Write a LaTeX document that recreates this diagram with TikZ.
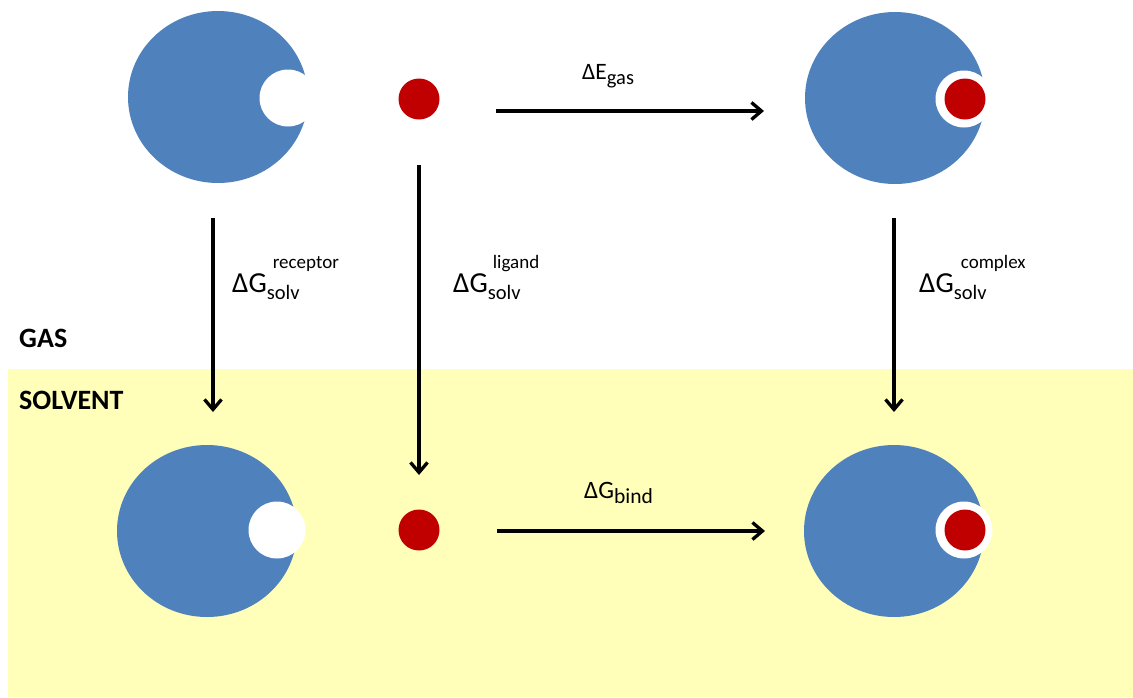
\documentclass[tikz,border=0pt]{standalone}
\usepackage{fontspec}
\setmainfont{Carlito}
\usetikzlibrary{arrows.meta,shapes.geometric}
\definecolor{recblue}{RGB}{79,129,189}
\definecolor{ligred}{RGB}{192,0,0}
\definecolor{solvyellow}{RGB}{255,255,185}
\newcommand{\fs}[1]{\fontsize{#1}{#1}\selectfont}
\tikzset{
  receptor/.style={ellipse, fill=recblue, inner sep=0pt, minimum width=180pt, minimum height=172pt},
  pocket/.style={circle, fill=white, inner sep=0pt, minimum size=57pt},
  ligand/.style={circle, fill=ligred, inner sep=0pt, minimum size=41pt},
  conn/.style={line width=3.3pt, -{Straight Barb[length=10pt,width=17pt]}},
  lbl/.style={anchor=base west, inner sep=0pt, text=black},
  phase/.style={anchor=base west, inner sep=0pt, font=\bfseries\fs{28}}
}
\begin{document}
\begin{tikzpicture}[x=1pt,y=-1pt]
\useasboundingbox (0,0) rectangle (1133,697);
% solvent region
\fill[solvyellow] (8,369) rectangle (1133,697);
% phase labels
\node[phase] (gas) at (19,347) {GAS};
\node[phase] (solvent) at (19,409) {SOLVENT};
% gas phase species
\node[receptor] (recG) at (218,97) {};
\node[pocket] (pocG) at (288,98) {};
\node[ligand] (ligG) at (419,99) {};
\node[receptor] (cplxG) at (895,98) {};
\node[pocket] (ringG) at (964,99) {};
\node[ligand] (cligG) at (965,99) {};
% solvent species
\node[receptor] (recS) at (207,531) {};
\node[pocket] (pocS) at (277,530) {};
\node[ligand] (ligS) at (419,530) {};
\node[receptor] (cplxS) at (894,531) {};
\node[pocket] (ringS) at (964,530) {};
\node[ligand] (cligS) at (965,530) {};
% connector ends
\coordinate (e1a) at (496,111);
\coordinate (e1b) at (764,111);
\coordinate (e2a) at (497,531);
\coordinate (e2b) at (765,531);
\coordinate (v1a) at (213,218);
\coordinate (v1b) at (213,412);
\coordinate (v2a) at (419,165);
\coordinate (v2b) at (419,475);
\coordinate (v3a) at (894,218);
\coordinate (v3b) at (894,412);
\draw[conn] (e1a) -- (e1b);
\draw[conn] (e2a) -- (e2b);
\draw[conn] (v1a) -- (v1b);
\draw[conn] (v2a) -- (v2b);
\draw[conn] (v3a) -- (v3b);
% labels
\node[lbl] (lEgas) at (582,79) {\fs{23.5}ΔE\raisebox{-5pt}{\fs{20.5}gas}};
\node[lbl] (lGbind) at (584,498) {\fs{25}ΔG\raisebox{-5pt}{\fs{21.5}bind}};
\node[lbl] (lrec) at (232,292) {\fs{29}ΔG\rlap{\raisebox{-7pt}{\fs{20.5}solv}}\hspace{6pt}\raisebox{24pt}{\fs{19}receptor}};
\node[lbl] (llig) at (453,292) {\fs{29}ΔG\rlap{\raisebox{-7pt}{\fs{20.5}solv}}\hspace{5pt}\raisebox{24pt}{\fs{19}ligand}};
\node[lbl] (lcplx) at (919,292) {\fs{29}ΔG\rlap{\raisebox{-7pt}{\fs{20.5}solv}}\hspace{7pt}\raisebox{24pt}{\fs{19}complex}};
\end{tikzpicture}
\end{document}
